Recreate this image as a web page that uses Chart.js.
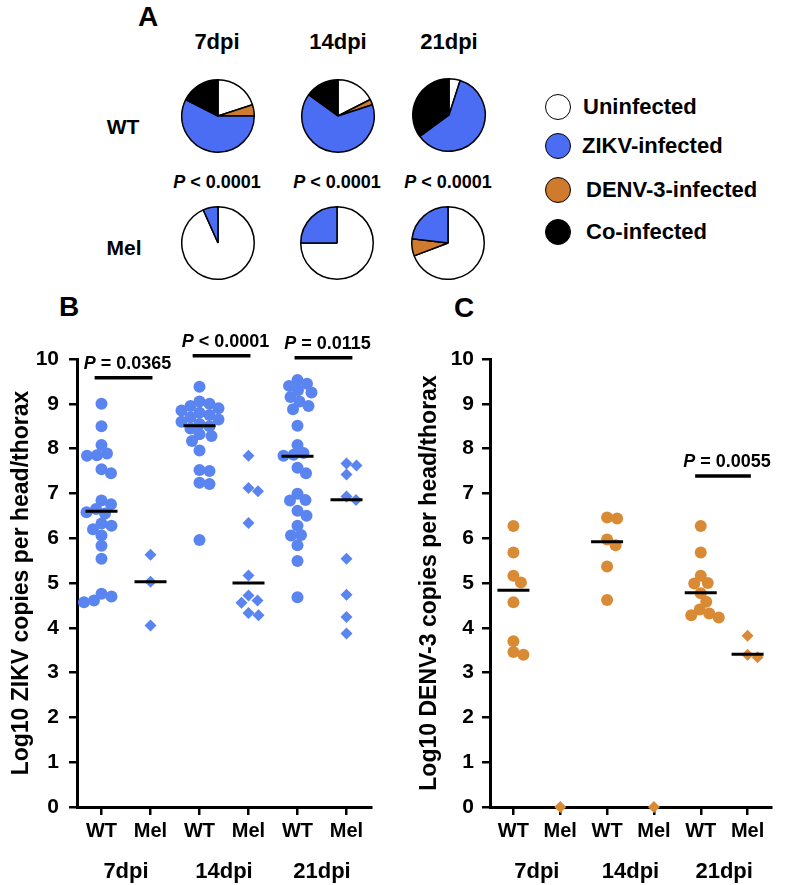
<!DOCTYPE html>
<html>
<head>
<meta charset="utf-8">
<script src="https://cdn.jsdelivr.net/npm/chart.js@4.4.1/dist/chart.umd.min.js"></script>
<style>
  body { margin: 0; background: #fff; }
  #fig { position: relative; width: 790px; height: 885px; overflow: hidden;
         font-family: 'Liberation Sans', Arial, sans-serif; font-weight: bold; color: #000; }
  .lbl { position: absolute; white-space: nowrap; transform: translate(-50%, -50%); line-height: 1; }
  .pie { position: absolute; width: 76px; height: 76px; }
  .leg { position: absolute; white-space: nowrap; font-size: 22px; line-height: 1; transform: translateY(-50%); }
  .dot { position: absolute; width: 24px; height: 24px; border-radius: 50%; border: 1.5px solid #000;
         transform: translate(-50%, -50%); }
  #panelB { position: absolute; left: 0; top: 330px; }
  #panelC { position: absolute; left: 400px; top: 330px; }
</style>
</head>
<body>
<div id="fig">
  <div class="lbl" style="left:148px;top:17px;font-size:28px">A</div>
  <div class="lbl" style="left:217px;top:42px;font-size:22px">7dpi</div>
  <div class="lbl" style="left:338px;top:42px;font-size:22px">14dpi</div>
  <div class="lbl" style="left:449px;top:42px;font-size:22px">21dpi</div>
  <div class="lbl" style="left:123px;top:126px;font-size:21px">WT</div>
  <div class="lbl" style="left:124px;top:247px;font-size:21px">Mel</div>
  <div class="lbl" style="left:217px;top:182px;font-size:18px"><i>P</i> &lt; 0.0001</div>
  <div class="lbl" style="left:337px;top:182px;font-size:18px"><i>P</i> &lt; 0.0001</div>
  <div class="lbl" style="left:448px;top:182px;font-size:18px"><i>P</i> &lt; 0.0001</div>

  <canvas class="pie" id="pieWT0" width="76" height="76" style="left:180px;top:78px"></canvas>
  <canvas class="pie" id="pieWT1" width="76" height="76" style="left:300px;top:78px"></canvas>
  <canvas class="pie" id="pieWT2" width="76" height="76" style="left:411px;top:77px"></canvas>
  <canvas class="pie" id="pieMel0" width="76" height="76" style="left:180px;top:205px"></canvas>
  <canvas class="pie" id="pieMel1" width="76" height="76" style="left:299px;top:205px"></canvas>
  <canvas class="pie" id="pieMel2" width="76" height="76" style="left:410px;top:205px"></canvas>

  <div id="legend"></div>

  <div class="lbl" style="left:69px;top:307px;font-size:28px">B</div>
  <div class="lbl" style="left:464px;top:308px;font-size:28px">C</div>

  <canvas id="panelB" width="390" height="555"></canvas>
  <canvas id="panelC" width="390" height="555"></canvas>
</div>

<script>
const FONT = "'Liberation Sans', Arial, sans-serif";

// categories
const groups = ['7dpi', '14dpi', '21dpi'];
const strains = ['WT', 'Mel'];
const yTicks = [0, 1, 2, 3, 4, 5, 6, 7, 8, 9, 10];

// pie slices, clockwise from 12 o'clock
const pieStatus = ['Uninfected', 'DENV-3-infected', 'ZIKV-infected', 'Co-infected'];
const pieColors = ['#ffffff', '#cf7a2c', '#4a6df4', '#000000'];
const legendOrder = [0, 2, 1, 3];
const wtPies = [[8, 2, 23, 7], [7, 1, 26, 6], [1, 0, 12, 7]];
const melPies = [[14, 0, 1, 0], [9, 0, 3, 0], [9, 1, 3, 0]];

// panel B - log10 ZIKV copies
const zikvWT7 = [9.0, 8.5, 8.08, 7.89, 7.85, 7.84, 7.54, 7.45, 6.84, 6.76, 6.65, 6.58, 6.55, 6.33, 6.28, 6.2, 6.06, 5.83, 5.54, 4.76, 4.70, 4.61, 4.57];
const zikvMel7 = [5.63, 5.03, 4.05];
const zikvWT14 = [9.38, 9.05, 9.0, 8.95, 8.9, 8.85, 8.8, 8.75, 8.7, 8.65, 8.6, 8.55, 8.5, 8.45, 8.32, 8.28, 8.17, 7.96, 7.52, 7.50, 7.24, 7.21, 5.96];
const zikvMel14 = [7.84, 7.12, 7.05, 6.34, 5.17, 4.72, 4.61, 4.56, 4.33, 4.28];
const zikvWT21 = [9.53, 9.45, 9.40, 9.30, 9.25, 9.15, 9.05, 8.95, 8.88, 8.51, 8.08, 7.90, 7.86, 7.84, 7.57, 7.45, 6.99, 6.85, 6.84, 6.61, 6.50, 6.28, 6.07, 6.06, 5.84, 5.49, 4.68];
const zikvMel21 = [7.67, 7.62, 7.42, 6.93, 6.85, 5.54, 4.74, 4.24, 3.87];
const zikvMedians = [6.60, 5.03, 8.51, 5.00, 7.83, 6.86];
const zikvPLabels = ['P = 0.0365', 'P < 0.0001', 'P = 0.0115'];
const zikvPFrom = [-0.14, 1.86, 3.94];
const zikvPTo = [1.04, 3.04, 5.12];
const zikvPHeight = [9.58, 10.07, 10.03];

// panel C - log10 DENV-3 copies
const denvWT7 = [6.27, 5.68, 5.16, 5.01, 4.57, 3.70, 3.46, 3.40];
const denvMel7 = [0];
const denvWT14 = [6.46, 6.44, 5.97, 5.84, 5.37, 4.62];
const denvMel14 = [0];
const denvWT21 = [6.27, 5.68, 5.16, 5.00, 4.99, 4.77, 4.58, 4.41, 4.32, 4.28, 4.23];
const denvMel21 = [3.82, 3.40, 3.34];
const denvMedians = [4.84, null, 5.92, null, 4.78, 3.41];
const denvPLabels = ['P = 0.0055'];
const denvPFrom = [3.88];
const denvPTo = [5.07];
const denvPHeight = [7.39];

// ---- pies ----
function makePie(id, counts) {
    new Chart(document.getElementById(id), {
        type: 'pie',
        data: {
            labels: pieStatus,
            datasets: [{ data: counts, backgroundColor: pieColors, borderColor: '#000', borderWidth: 1.5 }]
        },
        options: {
            responsive: false,
            animation: false,
            events: [],
            layout: { padding: 1 },
            plugins: { legend: { display: false }, tooltip: { enabled: false } }
        }
    });
}
wtPies.forEach((c, i) => makePie('pieWT' + i, c));
melPies.forEach((c, i) => makePie('pieMel' + i, c));

// legend
const legendY = [107, 146, 190, 232];
const legendX = [583, 582, 586, 586];
const legendEl = document.getElementById('legend');
legendOrder.forEach((k, i) => {
    const dot = document.createElement('div');
    dot.className = 'dot';
    dot.style.left = '558px';
    dot.style.top = legendY[i] + 'px';
    dot.style.background = pieColors[k];
    legendEl.appendChild(dot);
    const t = document.createElement('div');
    t.className = 'leg';
    t.style.left = legendX[i] + 'px';
    t.style.top = legendY[i] + 'px';
    t.textContent = pieStatus[k];
    legendEl.appendChild(t);
});

// ---- plugins for the dot plots ----
const pLabelPlugin = {
    id: 'pLabels',
    afterDatasetsDraw(chart, args, opts) {
        const { ctx, scales: { x, y } } = chart;
        ctx.save();
        ctx.fillStyle = '#000';
        ctx.textBaseline = 'alphabetic';
        opts.labels.forEach((txt, i) => {
            const cx = x.getPixelForValue((opts.from[i] + opts.to[i]) / 2) + 4;
            const cy = y.getPixelForValue(opts.heights[i]) - 9;
            const fi = 'italic bold 18px ' + FONT, fb = 'bold 18px ' + FONT;
            const rest = txt.slice(1);
            ctx.font = fi;
            const wP = ctx.measureText('P').width;
            ctx.font = fb;
            const wR = ctx.measureText(rest).width;
            const left = cx - (wP + wR) / 2;
            ctx.font = fi;
            ctx.fillText('P', left, cy);
            ctx.font = fb;
            ctx.fillText(rest, left + wP, cy);
        });
        ctx.restore();
    }
};

const groupLabelPlugin = {
    id: 'groupLabels',
    afterDraw(chart) {
        const { ctx, scales: { x } } = chart;
        ctx.save();
        ctx.fillStyle = '#000';
        ctx.font = 'bold 22px ' + FONT;
        ctx.textAlign = 'center';
        ctx.textBaseline = 'middle';
        groups.forEach((g, i) => {
            ctx.fillText(g, x.getPixelForValue(2 * i + 0.5), x.top + 65);
        });
        ctx.restore();
    }
};

// simple beeswarm: spread overlapping points sideways (pixels -> x units)
function swarm(vals, center, xs, ys, minDist) {
    const pxX = xs.getPixelForValue(1) - xs.getPixelForValue(0);
    const placed = [];
    const out = new Array(vals.length);
    const order = vals.map((v, i) => i).sort((a, b) => vals[b] - vals[a]);
    order.forEach(i => {
        const py = ys.getPixelForValue(vals[i]);
        let off = 0;
        for (let step = 0; step < 400; step++) {
            const cand = (step % 2 ? 1 : -1) * Math.ceil(step / 2) * 0.5;
            if (placed.every(p => Math.hypot(p.x - cand, p.y - py) >= minDist)) { off = cand; break; }
        }
        placed.push({ x: off, y: py });
        out[i] = center + off / pxX;
    });
    return out;
}

function axisStyle() {
    return {
        grid: { drawOnChartArea: false, drawTicks: true, tickLength: 8, color: '#000', lineWidth: 2.5 },
        border: { color: '#000', width: 3 }
    };
}

function makeDotPlot(id, cfg) {
    const bars = cfg.pHeight.map((h, i) => ({
        data: [{ x: cfg.pFrom[i], y: h }, { x: cfg.pTo[i], y: h }],
        showLine: true, borderColor: '#000', borderWidth: 3.5, pointRadius: 0, clip: false
    }));
    const medians = {
        data: cfg.medians.map((m, i) => m === null ? null : { x: i, y: m }).filter(Boolean),
        pointStyle: 'line', pointRadius: 16, borderColor: '#000', borderWidth: 3, clip: false
    };
    const wt = {
        data: [], pointStyle: 'circle', pointRadius: 6, backgroundColor: cfg.color, borderWidth: 0, clip: false
    };
    const mel = {
        data: [], pointStyle: 'rectRot', pointRadius: 6, backgroundColor: cfg.color, borderWidth: 0, clip: false
    };
    cfg.wt.forEach((vals, g) => vals.forEach(v => wt.data.push({ x: 2 * g, y: v })));
    cfg.mel.forEach((vals, g) => vals.forEach(v => mel.data.push({ x: 2 * g + 1, y: v })));

    const ax = axisStyle();
    const chart = new Chart(document.getElementById(id), {
        type: 'scatter',
        data: { datasets: [...bars, medians, wt, mel] },
        options: {
            responsive: false,
            animation: false,
            events: [],
            layout: { padding: { left: 0, right: cfg.padRight, top: 29, bottom: 0 } },
            plugins: {
                legend: { display: false },
                tooltip: { enabled: false },
                pLabels: { labels: cfg.pLabels, from: cfg.pFrom, to: cfg.pTo, heights: cfg.pHeight }
            },
            scales: {
                x: {
                    type: 'linear', min: -0.5, max: 5.5,
                    afterBuildTicks: s => { s.ticks = [0, 1, 2, 3, 4, 5].map(v => ({ value: v })); },
                    afterFit: s => { s.height = 78; },
                    ticks: {
                        callback: v => strains[v % 2], color: '#000', autoSkip: false, maxRotation: 0,
                        font: { family: FONT, size: 20, weight: 'bold' }, padding: 4
                    },
                    grid: ax.grid, border: ax.border
                },
                y: {
                    min: 0, max: 10,
                    afterBuildTicks: s => { s.ticks = yTicks.map(v => ({ value: v })); },
                    afterFit: s => { s.width = cfg.yWidth; },
                    ticks: { color: '#000', font: { family: FONT, size: 21, weight: 'bold' }, padding: cfg.tickPad },
                    title: {
                        display: true, text: cfg.yTitle, color: '#000',
                        font: { family: FONT, size: 23, weight: 'bold' },
                        padding: { top: cfg.titlePad, bottom: 0 }
                    },
                    grid: ax.grid, border: ax.border
                }
            }
        },
        plugins: [pLabelPlugin, groupLabelPlugin]
    });

    // spread the dots of each group once the scales exist
    const xs = chart.scales.x, ys = chart.scales.y;
    const nb = bars.length;
    const wtData = [], melData = [];
    cfg.wt.forEach((vals, g) => {
        const px = swarm(vals, 2 * g, xs, ys, 10);
        vals.forEach((v, i) => wtData.push({ x: px[i], y: v }));
    });
    cfg.mel.forEach((vals, g) => {
        const px = swarm(vals, 2 * g + 1, xs, ys, 10);
        vals.forEach((v, i) => melData.push({ x: px[i], y: v }));
    });
    chart.data.datasets[nb + 1].data = wtData;
    chart.data.datasets[nb + 2].data = melData;
    chart.update('none');
}

makeDotPlot('panelB', {
    wt: [zikvWT7, zikvWT14, zikvWT21],
    mel: [zikvMel7, zikvMel14, zikvMel21],
    medians: zikvMedians,
    pLabels: zikvPLabels, pFrom: zikvPFrom, pTo: zikvPTo, pHeight: zikvPHeight,
    color: '#5a84f0',
    yTitle: 'Log10 ZIKV copies per head/thorax',
    yWidth: 77, padRight: 13, tickPad: 10, titlePad: 8
});

makeDotPlot('panelC', {
    wt: [denvWT7, denvWT14, denvWT21],
    mel: [denvMel7, denvMel14, denvMel21],
    medians: denvMedians,
    pLabels: denvPLabels, pFrom: denvPFrom, pTo: denvPTo, pHeight: denvPHeight,
    color: '#d98a34',
    yTitle: 'Log10 DENV-3 copies per head/thorax',
    yWidth: 90, padRight: 0, tickPad: 8, titlePad: 16
});
</script>
</body>
</html>
